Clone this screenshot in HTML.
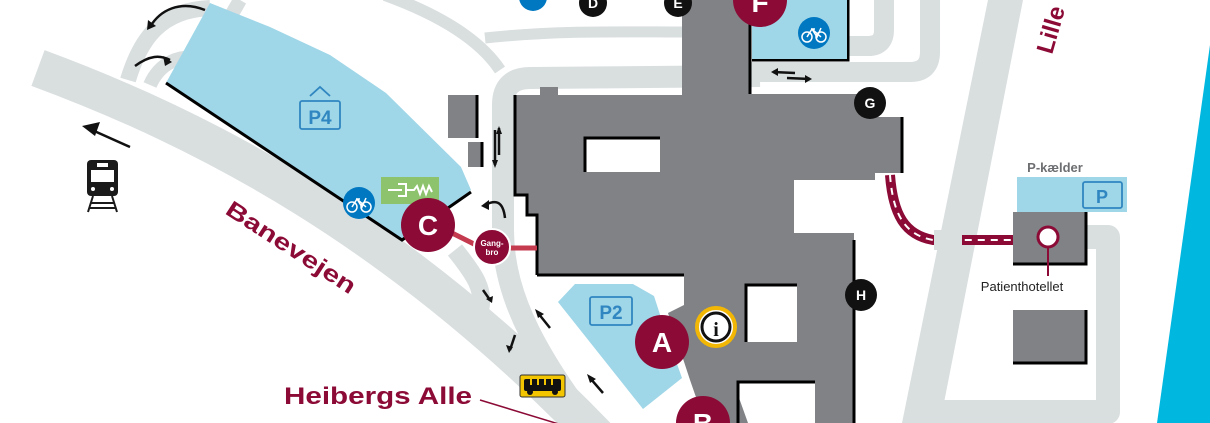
<!DOCTYPE html>
<html><head><meta charset="utf-8"><style>
html,body{margin:0;padding:0;background:#fff;width:1210px;height:423px;overflow:hidden;}
svg{display:block;font-family:"Liberation Sans",sans-serif;}
</style></head><body>
<svg width="1210" height="423" viewBox="0 0 1210 423" xmlns="http://www.w3.org/2000/svg">
<rect width="1210" height="423" fill="#fff"/>
<g fill="none" stroke="#d9dedf" stroke-linejoin="round">
 <path d="M38,68 C200,128 400,228 610,450" stroke-width="38"/>
 <path d="M128,80 C140,40 160,10 210,8" stroke-width="16"/>
 <path d="M150,85 C160,62 180,55 200,58" stroke-width="14"/>
 <path d="M240,0 L232,14" stroke-width="14"/>
 <path d="M385,-5 C440,15 480,40 500,70" stroke-width="12"/>
 <path d="M485,38 C560,30 620,32 690,32" stroke-width="11"/>
 <path d="M760,76 L530,78 Q503,78 503,105 L503,230 C503,300 540,360 600,440" stroke-width="22"/>
 <path d="M455,250 C475,275 485,290 480,310 C475,330 500,345 520,360 C540,380 560,400 580,440" stroke-width="18"/>
 <path d="M848,46 L868,46 Q884,46 884,30 L884,-5" stroke-width="20"/>
 <path d="M750,72 L910,72 Q930,72 930,52 L930,-5" stroke-width="20"/>
 <path d="M1085,237 L1108,237 L1108,412 L920,412" stroke-width="24"/>
</g>
<polygon points="988,0 1023,0 940,423 902,423" fill="#d9dedf"/>
<polygon points="1210,45 1210,423 1157,423" fill="#00b7e0"/>

<polygon points="210,3 270,27 330,55 386,93 461,167 471,190 402,240 166,83" fill="#9fd6e8"/>
<polyline points="166,83 402,240 471,192" fill="none" stroke="#000" stroke-width="3"/>
<g fill="none" stroke="#2f86c0" stroke-width="1.8"><path d="M310,96 L320,87 L330,96"/><rect x="300" y="101" width="40" height="28" rx="2"/></g>
<text x="320" y="124" text-anchor="middle" fill="#2f86c0" font-weight="bold" font-size="19">P4</text>
<rect x="381" y="177" width="58" height="27" fill="#8dc36d"/>
<path d="M388,190 h14 M398,184 h8 v12 h-8 M406,190 h8 l3,-4 3,8 3,-8 3,8 3,-8 3,6" stroke="#fff" stroke-width="2" fill="none"/>
<polygon points="558,302 575,284 633,284 654,296 665,330 682,378 643,409" fill="#9fd6e8"/>
<rect x="590" y="297" width="42" height="28" rx="2" fill="none" stroke="#2f86c0" stroke-width="1.8"/>
<text x="611" y="319" text-anchor="middle" fill="#2f86c0" font-weight="bold" font-size="19">P2</text>

<g fill="#808285">
<path d="M682,0 L750,0 L750,94 L875,94 L875,117 L902,117 L902,173 L875,173 L875,180 L794,180 L794,233 L854,233 L854,423 L738,423 L738,382 L815,382 L815,423 L705,423 L690,380 L668,313 L684,305 L684,275 L537,275 L537,215 L527,215 L527,195 L515,195 L515,95 L540,95 L540,87 L558,87 L558,95 L682,95 Z"/>
<rect x="448" y="95" width="29" height="43"/>
<rect x="468" y="142" width="14" height="25"/>
<rect x="1013" y="212" width="73" height="52"/>
<rect x="1013" y="310" width="73" height="53"/>
</g>
<polygon points="738,382 815,382 815,423 748,423 738,395" fill="#fff"/>
<rect x="585" y="138" width="75" height="34" fill="#fff"/>
<rect x="746" y="285" width="51" height="57" fill="#fff"/>
<g stroke="#000" stroke-width="3" fill="none">
<path d="M750,18 L750,94"/><path d="M902,117 L902,173"/><path d="M854,240 L854,423"/>
<path d="M537,275 L684,275"/><path d="M515,95 L515,195 L527,195 L527,215 L537,215 L537,275"/>
<path d="M585,172 L585,138 L660,138"/><path d="M746,342 L746,285 L797,285"/>
<path d="M738,423 L738,382 L815,382"/>
<path d="M477,95 L477,138"/><path d="M482,142 L482,167"/>
<path d="M1086,212 L1086,264 L1013,264"/><path d="M1086,310 L1086,363 L1013,363"/>
<path d="M752,60 L848,60 L848,0"/>
</g>
<rect x="752" y="0" width="95" height="59" fill="#9fd6e8"/>

<rect x="1017" y="177" width="110" height="35" fill="#9fd6e8"/>
<rect x="1083" y="182" width="39" height="26" rx="2" fill="none" stroke="#2f86c0" stroke-width="1.8"/>
<text x="1102" y="203" text-anchor="middle" fill="#2f86c0" font-weight="bold" font-size="18">P</text>
<text x="1055" y="172" text-anchor="middle" fill="#6d6e71" font-weight="bold" font-size="13">P-kælder</text>
<line x1="1048" y1="245" x2="1048" y2="276" stroke="#8b0a36" stroke-width="2"/>
<circle cx="1048" cy="237" r="10" fill="#fff" stroke="#8b0a36" stroke-width="3"/>
<text x="1022" y="291" text-anchor="middle" fill="#222" font-size="13">Patienthotellet</text>

<path d="M890,175 C893,215 905,235 933,240 L1013,240" fill="none" stroke="#8b0a36" stroke-width="10"/>
<path d="M890,175 C893,215 905,235 933,240 L1013,240" fill="none" stroke="#fff" stroke-width="2" stroke-dasharray="7,6"/>
<rect x="934" y="230" width="28" height="20" fill="#d9dedf"/>

<path d="M450,232 L478,246 M508,248 L537,248" stroke="#c43a4f" stroke-width="5"/>

<g fill="#8b0a36">
<circle cx="428" cy="225" r="27"/><circle cx="662" cy="342" r="27"/>
<circle cx="703" cy="423" r="27"/><circle cx="760" cy="0" r="27"/>
</g>
<circle cx="492" cy="247" r="18" fill="#8b0a36" stroke="#fff" stroke-width="2"/>
<g fill="#fff" font-weight="bold" text-anchor="middle">
<text x="428" y="235" font-size="28">C</text><text x="662" y="352" font-size="28">A</text>
<text x="703" y="433" font-size="28">B</text><text x="760" y="12" font-size="28">F</text>
<text x="492" y="246" font-size="8">Gang-</text><text x="492" y="255" font-size="8">bro</text>
</g>
<g fill="#111"><circle cx="870" cy="103" r="16"/><circle cx="861" cy="295" r="16"/><circle cx="593" cy="3" r="14"/><circle cx="678" cy="3" r="14"/></g>
<g fill="#fff" font-weight="bold" text-anchor="middle" font-size="14">
<text x="870" y="108">G</text><text x="861" y="300">H</text><text x="593" y="8">D</text><text x="678" y="8">E</text></g>
<g fill="#0078c1"><circle cx="359" cy="203" r="16"/><circle cx="814" cy="33" r="16"/><circle cx="533" cy="-3" r="14"/></g>
<g stroke="#fff" stroke-width="1.5" fill="none">
<circle cx="352" cy="207" r="5"/><circle cx="366" cy="207" r="5"/><path d="M352,207 L357,199 L366,207 M356,199 h4 M357,199 L362,207 L366,198"/>
<circle cx="807" cy="37" r="5"/><circle cx="821" cy="37" r="5"/><path d="M807,37 L812,29 L821,37 M811,29 h4 M812,29 L817,37 L821,28"/>
</g>
<circle cx="716" cy="327" r="19" fill="#fff" stroke="#f2b705" stroke-width="4"/>
<circle cx="716" cy="327" r="14" fill="none" stroke="#111" stroke-width="3"/>
<text x="716" y="336" text-anchor="middle" font-family="Liberation Serif,serif" font-weight="bold" font-size="20" fill="#111">i</text>

<rect x="520" y="375" width="45" height="22" rx="2" fill="#f2c500" stroke="#333" stroke-width="1"/>
<rect x="524" y="379" width="37" height="12" rx="2" fill="#111"/>
<g stroke="#f2c500" stroke-width="2"><path d="M531,379v6M538,379v6M545,379v6M552,379v6"/></g>
<circle cx="530" cy="392" r="3" fill="#111"/><circle cx="555" cy="392" r="3" fill="#111"/>

<rect x="87" y="160" width="31" height="36" rx="4" fill="#1a1a1a"/>
<rect x="91" y="170" width="23" height="12" fill="#fff"/>
<rect x="97" y="163" width="11" height="4" fill="#fff"/>
<circle cx="93" cy="189" r="2" fill="#fff"/><circle cx="112" cy="189" r="2" fill="#fff"/>
<path d="M93,196 L88,212 M112,196 L117,212 M91,203 h23 M90,208 h25" stroke="#1a1a1a" stroke-width="2"/>
<g stroke="#111" stroke-width="2.5" fill="none">
<path d="M130,147 L92,130"/>
<path d="M205,10 C180,0 160,10 150,27"/><path d="M135,66 C150,55 160,55 170,60"/>
<path d="M495,130 L495,165 M499,128 L499,155"/>
<path d="M505,218 C503,200 495,200 485,205"/>
<path d="M483,290 L490,300"/><path d="M515,335 L510,350"/>
<path d="M550,328 L538,313"/><path d="M603,393 L590,378"/>
<path d="M773,72 L795,73 M787,78 L810,79"/>
</g>
<g fill="#111">
<polygon points="82,126 100,122 95,136"/>
<polygon points="147,30 148,20 156,26"/><polygon points="172,62 163,56 165,66"/>
<polygon points="499,126 496,134 502,134"/><polygon points="495,168 492,160 498,160"/>
<polygon points="481,206 489,200 489,210"/>
<polygon points="492,303 486,299 493,296"/><polygon points="509,353 506,345 513,347"/>
<polygon points="535,309 544,314 538,318"/><polygon points="587,374 596,379 590,383"/>
<polygon points="771,72 778,68 778,76"/><polygon points="812,79 805,75 805,83"/>
</g>

<text transform="translate(224,213) rotate(33)" fill="#8b0a36" font-weight="bold" font-size="23" textLength="150" lengthAdjust="spacingAndGlyphs">Banevejen</text>
<text transform="translate(1052,55) rotate(-74)" fill="#8b0a36" font-weight="bold" font-size="24">Lille</text>
<text x="284" y="404" fill="#8b0a36" font-weight="bold" font-size="24" textLength="188" lengthAdjust="spacingAndGlyphs">Heibergs Alle</text>
<line x1="480" y1="400" x2="562" y2="425" stroke="#8b0a36" stroke-width="1.5"/>
</svg>
</body></html>
